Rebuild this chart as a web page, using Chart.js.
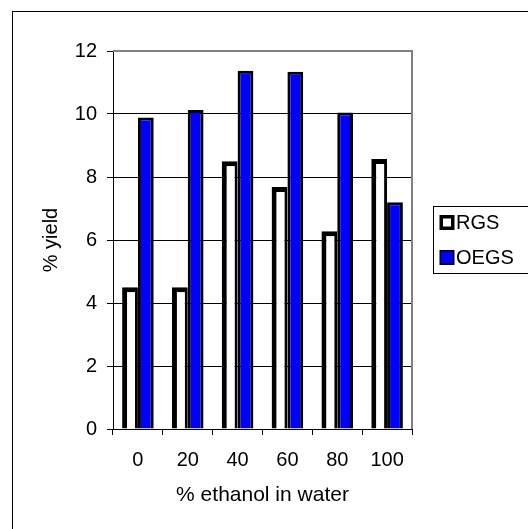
<!DOCTYPE html>
<html>
<head>
<meta charset="utf-8">
<script src="https://cdn.jsdelivr.net/npm/chart.js@4/dist/chart.umd.min.js"></script>
<style>
  html, body { margin: 0; padding: 0; background: #fff; }
  canvas { display: block; }
</style>
</head>
<body>
<canvas id="c" width="528" height="529"></canvas>
<script>
const categories = ['0', '20', '40', '60', '80', '100'];
const rgsValues = [4.5, 4.5, 8.5, 7.68, 6.28, 8.57];
const oegsValues = [9.89, 10.13, 11.37, 11.34, 10.05, 7.2];
const seriesNames = ['RGS', 'OEGS'];
const yTickValues = [0, 2, 4, 6, 8, 10, 12];
const xTitle = '% ethanol in water';
const yTitle = '% yield';

const FONT = '"Liberation Sans", Arial, sans-serif';

const framePlugin = {
  id: 'frame',
  beforeDraw(chart) {
    const ctx = chart.ctx;
    ctx.save();
    ctx.fillStyle = '#fff';
    ctx.fillRect(0, 0, chart.width, chart.height);
    ctx.strokeStyle = '#000';
    ctx.lineWidth = 1;
    ctx.strokeRect(12.5, 11.5, 700, 700);
    ctx.restore();
  },
  afterDatasetsDraw(chart) {
    const a = chart.chartArea;
    const ctx = chart.ctx;
    ctx.save();
    ctx.strokeStyle = '#808080';
    ctx.lineWidth = 2;
    ctx.beginPath();
    ctx.moveTo(a.left, a.top);
    ctx.lineTo(a.right, a.top);
    ctx.lineTo(a.right, a.bottom);
    ctx.stroke();
    ctx.restore();
  },
  afterDraw(chart) {
    const ctx = chart.ctx;
    ctx.save();
    ctx.strokeStyle = '#000';
    ctx.lineWidth = 1;
    ctx.strokeRect(433.5, 206.5, 200, 67);
    ctx.font = '20px ' + FONT;
    ctx.textBaseline = 'middle';
    ctx.textAlign = 'left';
    const rows = [222.5, 257.5];
    chart.data.datasets.forEach((ds, i) => {
      const cy = rows[i];
      const s = 15;
      const x0 = 439.5, y0 = cy - s / 2;
      ctx.fillStyle = '#000';
      ctx.fillRect(x0, y0, s, s);
      const inset = i === 0 ? 3.5 : 1.5;
      ctx.fillStyle = ds.backgroundColor;
      ctx.fillRect(x0 + inset, y0 + inset, s - 2 * inset, s - 2 * inset);
      ctx.fillStyle = '#000';
      ctx.fillText(ds.label, 456, cy + 1);
    });
    ctx.restore();
  }
};

new Chart(document.getElementById('c'), {
  type: 'bar',
  data: {
    labels: categories,
    datasets: [
      {
        label: seriesNames[0],
        data: rgsValues,
        backgroundColor: '#ffffff',
        borderColor: '#000000',
        borderWidth: { left: 5, top: 5, right: 3, bottom: 0 },
        borderSkipped: 'start',
        categoryPercentage: 0.634,
        barPercentage: 1.0
      },
      {
        label: seriesNames[1],
        data: oegsValues,
        backgroundColor: '#0000ff',
        borderColor: '#000000',
        borderWidth: { left: 3, top: 3, right: 3, bottom: 0 },
        borderSkipped: 'start',
        categoryPercentage: 0.634,
        barPercentage: 1.0
      }
    ]
  },
  options: {
    responsive: false,
    animation: false,
    devicePixelRatio: 1,
    layout: { padding: { top: 51, right: 116, bottom: 0, left: 0 } },
    plugins: {
      legend: { display: false },
      tooltip: { enabled: false },
      title: { display: false }
    },
    scales: {
      x: {
        offset: true,
        grid: {
          display: true,
          drawOnChartArea: false,
          drawTicks: true,
          tickLength: 6,
          color: '#000',
          lineWidth: 1,
          offset: true
        },
        border: { display: true, color: '#000', width: 1 },
        ticks: {
          color: '#000',
          font: { family: FONT, size: 20 },
          padding: 13,
          maxRotation: 0
        },
        title: {
          display: true,
          text: xTitle,
          color: '#000',
          font: { family: FONT, size: 21 },
          padding: { top: 0, bottom: 21 }
        },
        afterFit(scale) { scale.height = 100; }
      },
      y: {
        min: 0,
        max: 12,
        afterBuildTicks(scale) { scale.ticks = yTickValues.map(v => ({ value: v })); },
        grid: {
          color: '#000',
          lineWidth: 1,
          drawTicks: true,
          tickLength: 6,
          tickColor: '#000'
        },
        border: { display: true, color: '#000', width: 1 },
        ticks: {
          color: '#000',
          font: { family: FONT, size: 20 },
          padding: 10
        },
        title: {
          display: true,
          text: yTitle,
          color: '#000',
          font: { family: FONT, size: 20 },
          padding: { top: 39, bottom: 0 }
        },
        afterFit(scale) { scale.width = 113; }
      }
    }
  },
  plugins: [framePlugin]
});
</script>
</body>
</html>
